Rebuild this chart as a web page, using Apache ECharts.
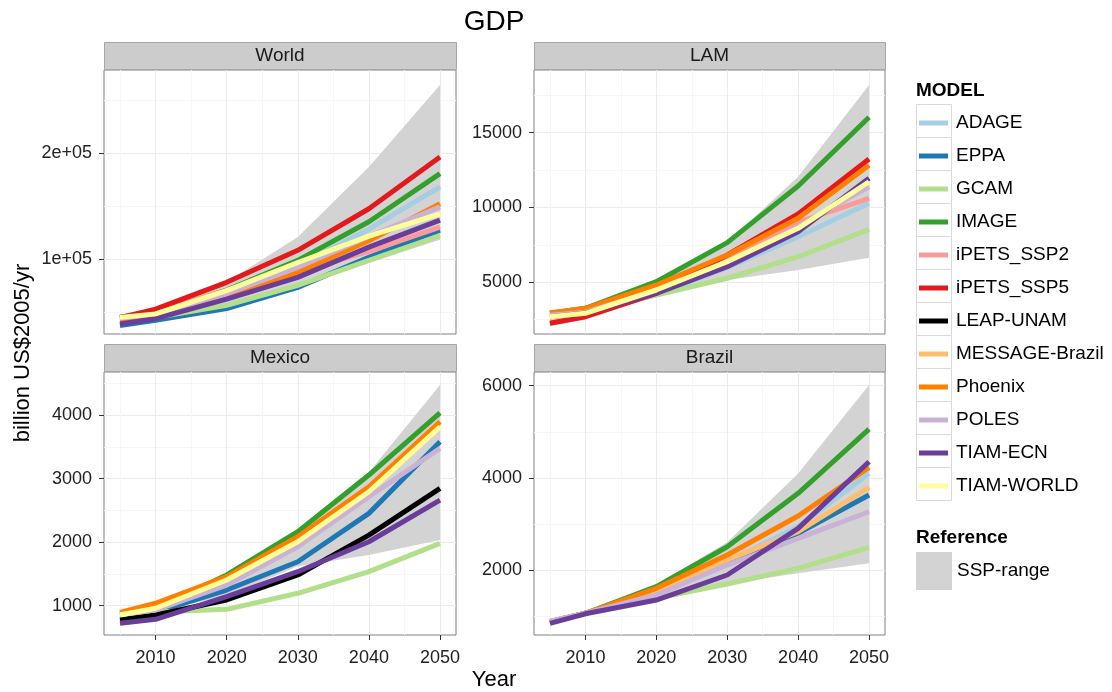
<!DOCTYPE html>
<html>
<head>
<meta charset="utf-8">
<script src="https://cdn.jsdelivr.net/npm/echarts@6/dist/echarts.min.js"></script>
<style>
  html, body { margin: 0; padding: 0; background: #ffffff; }
  #chart { width: 1112px; height: 692px; }
</style>
</head>
<body>
<div id="chart"></div>
<script>
// GDP projections by model, billion US$2005/yr
const years = [2005, 2010, 2020, 2030, 2040, 2050];

const models = ['ADAGE', 'EPPA', 'GCAM', 'IMAGE', 'iPETS_SSP2', 'iPETS_SSP5',
  'LEAP-UNAM', 'MESSAGE-Brazil', 'Phoenix', 'POLES', 'TIAM-ECN', 'TIAM-WORLD'];
const modelColors = ['#a6cee3', '#1f78b4', '#b2df8a', '#33a02c', '#fb9a99', '#e31a1c',
  '#000000', '#fdbf6f', '#ff7f00', '#cab2d6', '#6a3d9a', '#ffff99'];

const worldGDP = {
  'ADAGE':      [43000, 47500, 67000, 93500, 128000, 168000],
  'EPPA':       [37000, 42000, 53000, 73000, 101500, 127000],
  'GCAM':       [40000, 44500, 56000, 75000, 98500, 122000],
  'IMAGE':      [45000, 49000, 70500, 98500, 135000, 180500],
  'iPETS_SSP2': [44500, 51000, 70000, 88000, 107000, 130000],
  'iPETS_SSP5': [44500, 52500, 77800, 108000, 147300, 196200],
  'Phoenix':    [42000, 46000, 63500, 87000, 117000, 152000],
  'POLES':      [44000, 47500, 67000, 92000, 121000, 149000],
  'TIAM-ECN':   [38500, 43500, 62000, 82500, 111000, 136500],
  'TIAM-WORLD': [44700, 48000, 70000, 96500, 121500, 142500]
};
const lamGDP = {
  'ADAGE':      [2950, 3200, 4200, 6000, 8050, 10280],
  'GCAM':       [2950, 3150, 4150, 5270, 6710, 8540],
  'IMAGE':      [2930, 3260, 5040, 7650, 11440, 16030],
  'iPETS_SSP2': [2260, 2700, 4250, 6700, 9000, 10615],
  'iPETS_SSP5': [2260, 2700, 4265, 6825, 9565, 13240],
  'Phoenix':    [2950, 3260, 4820, 6825, 9280, 12820],
  'POLES':      [2800, 3000, 4450, 6300, 8720, 11390],
  'TIAM-ECN':   [2700, 2950, 4265, 6040, 8380, 11950],
  'TIAM-WORLD': [2700, 2930, 4485, 6380, 8610, 11720]
};
const mexicoGDP = {
  'EPPA':       [840, 900, 1247, 1691, 2452, 3578],
  'GCAM':       [860, 900, 943, 1195, 1535, 1981],
  'IMAGE':      [860, 960, 1483, 2163, 3055, 4034],
  'LEAP-UNAM':  [775, 854, 1090, 1483, 2111, 2846],
  'Phoenix':    [896, 1038, 1456, 2085, 2871, 3893],
  'POLES':      [860, 930, 1325, 1927, 2713, 3474],
  'TIAM-ECN':   [723, 786, 1141, 1535, 2006, 2662],
  'TIAM-WORLD': [854, 959, 1404, 2006, 2792, 3814]
};
const brazilGDP = {
  'ADAGE':          [880, 1061, 1500, 2180, 2940, 4097],
  'EPPA':           [880, 1061, 1520, 2145, 2795, 3627],
  'GCAM':           [880, 1061, 1386, 1696, 2037, 2492],
  'IMAGE':          [879, 1061, 1638, 2505, 3664, 5058],
  'MESSAGE-Brazil': [880, 1061, 1550, 2217, 2831, 3794],
  'Phoenix':        [880, 1061, 1603, 2325, 3171, 4227],
  'POLES':          [892, 1061, 1458, 2108, 2688, 3265],
  'TIAM-ECN':       [844, 1050, 1349, 1892, 2904, 4349]
};

// SSP reference range (low / high envelope)
const worldSspLow   = [40000, 44000, 55000, 73000, 96000, 118000];
const worldSspHigh  = [47000, 53000, 78000, 120500, 186700, 264100];
const lamSspLow     = [2300, 2750, 4000, 5150, 5820, 6640];
const lamSspHigh    = [3000, 3300, 5100, 7700, 12060, 18190];
const mexicoSspLow  = [830, 920, 1150, 1620, 1797, 2033];
const mexicoSspHigh = [900, 1050, 1500, 2200, 3100, 4470];
const brazilSspLow  = [860, 1040, 1350, 1700, 1928, 2145];
const brazilSspHigh = [900, 1100, 1680, 2600, 4097, 6013];

// axis scales and ticks
const xRange = [2002.75, 2052.25];
const xTicks = [2010, 2020, 2030, 2040, 2050];
const xMinorTicks = [2005, 2015, 2025, 2035, 2045];

const worldRange = [29000, 278300];
const worldTicks = [100000, 200000];
const worldTickLabels = ['1e+05', '2e+05'];
const worldMinorTicks = [50000, 150000, 250000];

const lamRange = [1544, 19190];
const lamTicks = [5000, 10000, 15000];
const lamTickLabels = ['5000', '10000', '15000'];
const lamMinorTicks = [2500, 7500, 12500, 17500];

const mexicoRange = [539, 4676];
const mexicoTicks = [1000, 2000, 3000, 4000];
const mexicoTickLabels = ['1000', '2000', '3000', '4000'];
const mexicoMinorTicks = [1500, 2500, 3500, 4500];

const brazilRange = [590, 6297];
const brazilTicks = [2000, 4000, 6000];
const brazilTickLabels = ['2000', '4000', '6000'];
const brazilMinorTicks = [1000, 3000, 5000];

const FONT = '"Liberation Sans", Arial, Helvetica, sans-serif';

// facet layout: plot rectangle for each panel
const panels = [
  { title: 'World',  values: worldGDP,  low: worldSspLow,  high: worldSspHigh,  range: worldRange,  ticks: worldTicks,  labels: worldTickLabels,  minor: worldMinorTicks,  left: 104, top: 70,  width: 352, height: 264, bottom: false },
  { title: 'LAM',    values: lamGDP,    low: lamSspLow,    high: lamSspHigh,    range: lamRange,    ticks: lamTicks,    labels: lamTickLabels,    minor: lamMinorTicks,    left: 534, top: 70,  width: 351, height: 264, bottom: false },
  { title: 'Mexico', values: mexicoGDP, low: mexicoSspLow, high: mexicoSspHigh, range: mexicoRange, ticks: mexicoTicks, labels: mexicoTickLabels, minor: mexicoMinorTicks, left: 104, top: 372, width: 352, height: 263, bottom: true },
  { title: 'Brazil', values: brazilGDP, low: brazilSspLow, high: brazilSspHigh, range: brazilRange, ticks: brazilTicks, labels: brazilTickLabels, minor: brazilMinorTicks, left: 534, top: 372, width: 351, height: 263, bottom: true }
];
const STRIP_H = 28;
const SSP_GREY = '#d3d3d3';

const grids = [], xAxes = [], yAxes = [], series = [], graphics = [];

panels.forEach((p, i) => {
  grids.push({
    left: p.left, top: p.top, width: p.width, height: p.height,
    show: true, backgroundColor: '#ffffff', borderColor: '#808080', borderWidth: 1
  });

  // major x axis (labels, ticks, major grid)
  xAxes.push({
    gridIndex: i, type: 'value', min: xRange[0], max: xRange[1],
    axisLine: { show: false },
    axisTick: { show: p.bottom, customValues: xTicks, length: 5, lineStyle: { color: '#333333' } },
    axisLabel: { show: p.bottom, customValues: xTicks, margin: 14, fontSize: 18, color: '#222222', fontFamily: FONT,
      formatter: v => String(v) },
    splitLine: { show: true, lineStyle: { color: '#ebebeb', width: 1 } }
  });
  // minor x grid
  xAxes.push({
    gridIndex: i, type: 'value', min: xRange[0], max: xRange[1],
    axisLine: { show: false },
    axisTick: { show: false, customValues: xMinorTicks },
    axisLabel: { show: false, customValues: xMinorTicks },
    splitLine: { show: true, lineStyle: { color: '#f6f6f6', width: 1 } }
  });
  // major y axis
  yAxes.push({
    gridIndex: i, type: 'value', min: p.range[0], max: p.range[1],
    axisLine: { show: false },
    axisTick: { show: true, customValues: p.ticks, length: 5, lineStyle: { color: '#333333' } },
    axisLabel: {
      show: true, customValues: p.ticks, margin: 12, fontSize: 18, color: '#222222', fontFamily: FONT,
      formatter: v => { const k = p.ticks.indexOf(v); return k >= 0 ? p.labels[k] : String(v); }
    },
    splitLine: { show: true, lineStyle: { color: '#ebebeb', width: 1 } }
  });
  // minor y grid
  yAxes.push({
    gridIndex: i, type: 'value', min: p.range[0], max: p.range[1],
    axisLine: { show: false },
    axisTick: { show: false, customValues: p.minor },
    axisLabel: { show: false, customValues: p.minor },
    splitLine: { show: true, lineStyle: { color: '#f6f6f6', width: 1 } }
  });

  const xi = 2 * i, yi = 2 * i;

  // SSP range band: polygon between the low and high envelopes
  series.push({
    type: 'custom', name: 'SSP-range', xAxisIndex: xi, yAxisIndex: yi,
    silent: true, z: 2,
    itemStyle: { color: SSP_GREY },
    encode: { x: 0, y: [1, 2] },
    data: years.map((yr, k) => [yr, p.low[k], p.high[k]]),
    renderItem: (params, api) => {
      if (params.dataIndex !== 0) return null;
      const upper = years.map((yr, k) => api.coord([yr, p.high[k]]));
      const lower = years.map((yr, k) => api.coord([yr, p.low[k]])).reverse();
      return { type: 'polygon', shape: { points: upper.concat(lower) }, style: { fill: SSP_GREY } };
    }
  });

  // model lines, drawn in legend order
  models.forEach((m, mi) => {
    const vals = p.values[m];
    if (!vals) return;
    series.push({
      type: 'line', name: m, xAxisIndex: xi, yAxisIndex: yi,
      symbol: 'none', silent: true, z: 3,
      color: modelColors[mi], itemStyle: { color: modelColors[mi] },
      lineStyle: { color: modelColors[mi], width: 5, cap: 'butt', join: 'round' },
      data: years.map((yr, k) => [yr, vals[k]]).filter(d => d[1] != null)
    });
  });

  // facet strip
  graphics.push({
    type: 'rect', z: 1,
    shape: { x: p.left + 0.5, y: p.top - STRIP_H + 0.5, width: p.width, height: STRIP_H - 1 },
    style: { fill: '#cccccc', stroke: '#a6a6a6', lineWidth: 1 }
  });
  graphics.push({
    type: 'text', z: 2,
    x: p.left + p.width / 2, y: p.top - STRIP_H / 2,
    style: { text: p.title, fill: '#1a1a1a', font: '19px ' + FONT, textAlign: 'center', textVerticalAlign: 'middle' }
  });
});

// chart title and axis titles
graphics.push({
  type: 'text', x: 494, y: 22,
  style: { text: 'GDP', fill: '#000000', font: '28px ' + FONT, textAlign: 'center', textVerticalAlign: 'middle' }
});
graphics.push({
  type: 'text', x: 494, y: 680,
  style: { text: 'Year', fill: '#000000', font: '22px ' + FONT, textAlign: 'center', textVerticalAlign: 'middle' }
});
graphics.push({
  type: 'text', x: 23, y: 353, rotation: Math.PI / 2,
  style: { text: 'billion US$2005/yr', fill: '#000000', font: '22px ' + FONT, textAlign: 'center', textVerticalAlign: 'middle' }
});

// legend headings and key boxes
const LEG_X = 916, LEG_TOP = 105, ROW_H = 33;
graphics.push({
  type: 'text', x: LEG_X, y: 91,
  style: { text: 'MODEL', fill: '#000000', font: 'bold 19px ' + FONT, textAlign: 'left', textVerticalAlign: 'middle' }
});
models.forEach((m, k) => {
  graphics.push({
    type: 'rect', z: 0,
    shape: { x: LEG_X + 0.5, y: LEG_TOP - 0.5 + k * ROW_H, width: 35, height: ROW_H },
    style: { fill: '#ffffff', stroke: '#d9d9d9', lineWidth: 1 }
  });
});
graphics.push({
  type: 'text', x: LEG_X, y: 538,
  style: { text: 'Reference', fill: '#000000', font: 'bold 19px ' + FONT, textAlign: 'left', textVerticalAlign: 'middle' }
});

const option = {
  animation: false,
  backgroundColor: '#ffffff',
  grid: grids,
  xAxis: xAxes,
  yAxis: yAxes,
  series: series,
  legend: [
    {
      data: models.map(m => ({ name: m, icon: 'rect' })),
      orient: 'vertical', left: 919, top: LEG_TOP + 1.5, padding: 0,
      itemWidth: 29, itemHeight: 5, itemGap: 0, selectedMode: false,
      textStyle: { fontSize: 19, lineHeight: ROW_H, color: '#000000', fontFamily: FONT, padding: [0, 0, 0, 3] }
    },
    {
      data: [{ name: 'SSP-range', icon: 'rect', itemStyle: { color: SSP_GREY } }],
      orient: 'vertical', left: LEG_X, top: 552, padding: 0,
      itemWidth: 36, itemHeight: 38, itemGap: 0, selectedMode: false,
      textStyle: { fontSize: 19, color: '#000000', fontFamily: FONT }
    }
  ],
  graphic: { elements: graphics }
};

const chart = echarts.init(document.getElementById('chart'));
chart.setOption(option);
</script>
</body>
</html>
